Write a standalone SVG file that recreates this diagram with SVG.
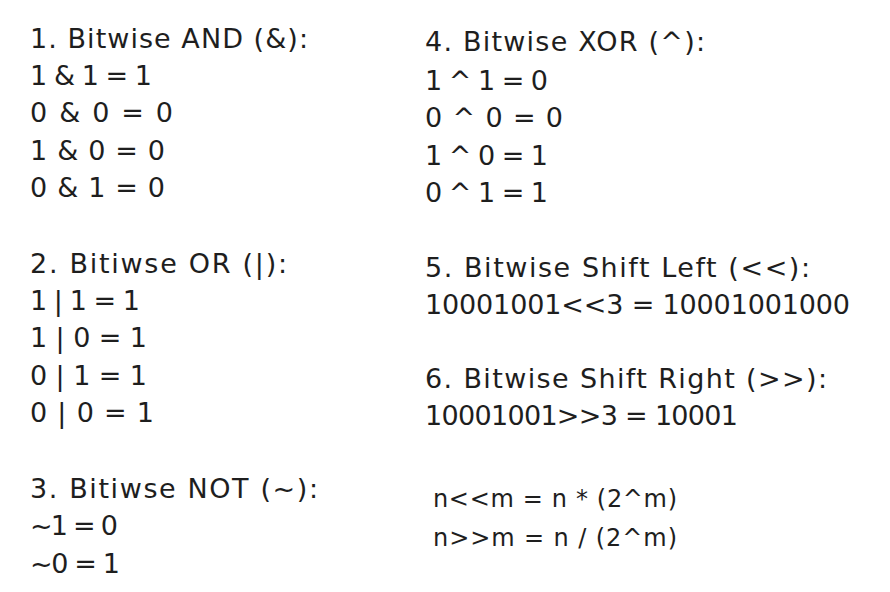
<svg xmlns="http://www.w3.org/2000/svg" width="890" height="592" viewBox="0 0 890 592">
<style>
text{font-family:"DejaVu Sans","Liberation Sans",sans-serif;font-size:27px;fill:#1e1e1e;}
text.f{font-size:24px;}
</style>
<rect width="890" height="592" fill="#ffffff"/>
<g id="and">
<text x="30" y="48" textLength="278" lengthAdjust="spacing">1. Bitwise AND (&amp;):</text>
<text x="30" y="85" textLength="122" lengthAdjust="spacing">1 &amp; 1 = 1</text>
<text x="30" y="122" textLength="143" lengthAdjust="spacing">0 &amp; 0 = 0</text>
<text x="30" y="160" textLength="135" lengthAdjust="spacing">1 &amp; 0 = 0</text>
<text x="30" y="197" textLength="135" lengthAdjust="spacing">0 &amp; 1 = 0</text>
</g>
<g id="or">
<text x="30" y="273" textLength="257" lengthAdjust="spacing">2. Bitiwse OR (|):</text>
<text x="30" y="310" textLength="110" lengthAdjust="spacing">1 | 1 = 1</text>
<text x="30" y="347" textLength="117" lengthAdjust="spacing">1 | 0 = 1</text>
<text x="30" y="385" textLength="117" lengthAdjust="spacing">0 | 1 = 1</text>
<text x="30" y="422" textLength="124" lengthAdjust="spacing">0 | 0 = 1</text>
</g>
<g id="not">
<text x="30" y="498" textLength="288" lengthAdjust="spacing">3. Bitiwse NOT (~):</text>
<text x="30" y="535" textLength="88" lengthAdjust="spacing">~1 = 0</text>
<text x="30" y="573" textLength="90" lengthAdjust="spacing">~0 = 1</text>
</g>
<g id="xor">
<text x="425" y="51" textLength="280" lengthAdjust="spacing">4. Bitwise XOR (^):</text>
<text x="425" y="90" textLength="123" lengthAdjust="spacing">1 ^ 1 = 0</text>
<text x="425" y="127" textLength="138" lengthAdjust="spacing">0 ^ 0 = 0</text>
<text x="425" y="165" textLength="123" lengthAdjust="spacing">1 ^ 0 = 1</text>
<text x="425" y="202" textLength="123" lengthAdjust="spacing">0 ^ 1 = 1</text>
</g>
<g id="shift-left">
<text x="425" y="277" textLength="385" lengthAdjust="spacing">5. Bitwise Shift Left (&lt;&lt;):</text>
<text x="425" y="314" textLength="425" lengthAdjust="spacing">10001001&lt;&lt;3 = 10001001000</text>
</g>
<g id="shift-right">
<text x="425" y="388" textLength="402" lengthAdjust="spacing">6. Bitwise Shift Right (&gt;&gt;):</text>
<text x="425" y="425" textLength="313" lengthAdjust="spacing">10001001&gt;&gt;3 = 10001</text>
</g>
<g id="formulas">
<text class="f" x="433" y="507" textLength="244" lengthAdjust="spacing">n&lt;&lt;m = n * (2^m)</text>
<text class="f" x="433" y="546" textLength="244" lengthAdjust="spacing">n&gt;&gt;m = n / (2^m)</text>
</g>
<g id="connectors"></g>
</svg>
